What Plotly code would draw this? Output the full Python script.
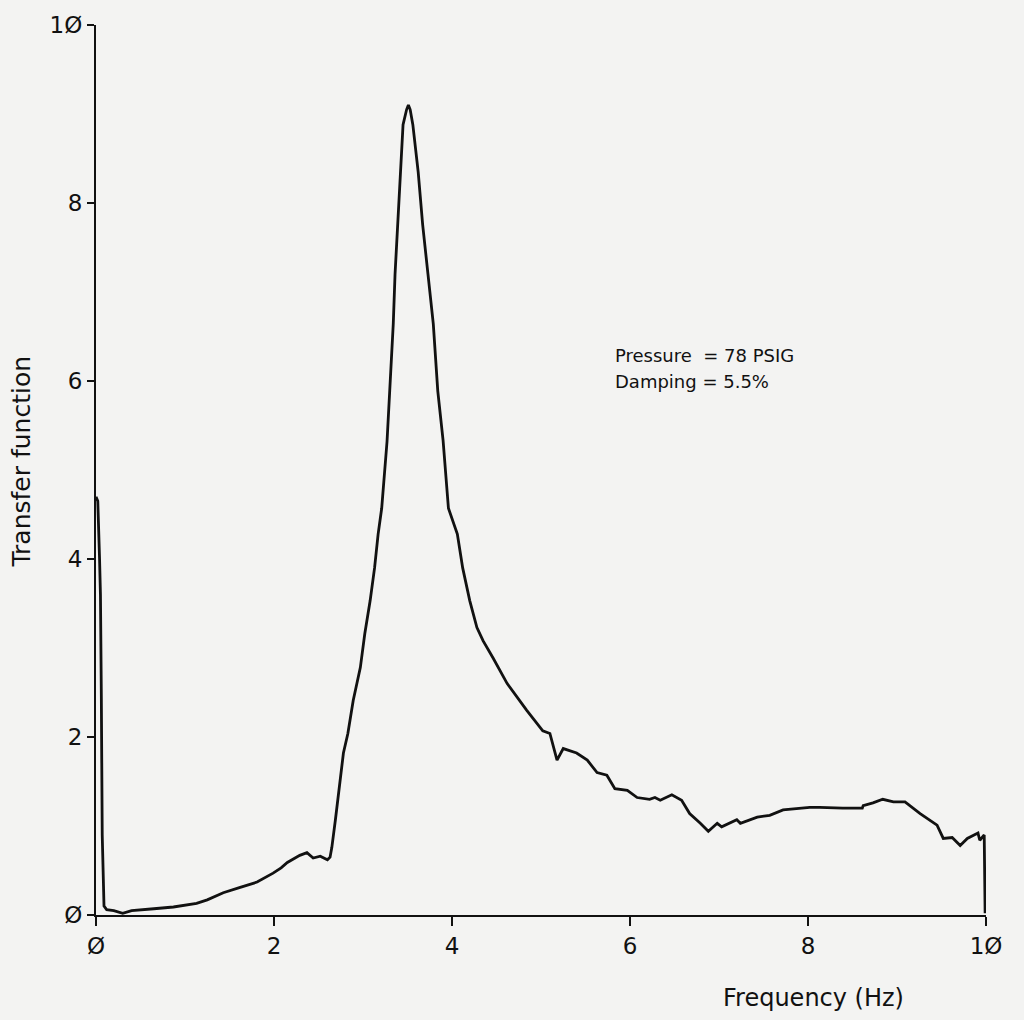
import plotly.graph_objects as go

# frequency (Hz) and transfer function
freq = [0.00, 0.02, 0.04, 0.05, 0.06, 0.07, 0.09, 0.12, 0.20, 0.30, 0.40, 0.49, 0.65,
        0.87, 1.00, 1.13, 1.25, 1.43, 1.62, 1.81, 1.99, 2.08, 2.15, 2.29, 2.37,
        2.44, 2.52, 2.60, 2.63, 2.65, 2.69, 2.74, 2.78, 2.83, 2.89, 2.97, 3.02,
        3.08, 3.13, 3.17, 3.21, 3.27, 3.30, 3.34, 3.36, 3.39, 3.43, 3.45, 3.49,
        3.51, 3.53, 3.56, 3.62, 3.67, 3.73, 3.79, 3.84, 3.90, 3.96, 4.06, 4.12,
        4.20, 4.28, 4.35, 4.46, 4.62, 4.84, 5.02, 5.10, 5.18, 5.25, 5.40, 5.52,
        5.63, 5.74, 5.83, 5.97, 6.08, 6.22, 6.28, 6.34, 6.47, 6.58, 6.67, 6.79,
        6.88, 6.98, 7.03, 7.20, 7.24, 7.43, 7.57, 7.72, 7.80, 8.02, 8.13, 8.39,
        8.61, 8.62, 8.73, 8.84, 8.96, 9.09, 9.26, 9.45, 9.52, 9.62, 9.71, 9.79,
        9.91, 9.93, 9.98, 9.99]
tf = [4.70, 4.65, 4.00, 3.60, 2.45, 0.90, 0.10, 0.06, 0.05, 0.02, 0.05, 0.06, 0.07,
      0.09, 0.11, 0.13, 0.17, 0.25, 0.31, 0.37, 0.47, 0.53, 0.59, 0.67, 0.70,
      0.64, 0.66, 0.62, 0.65, 0.76, 1.07, 1.48, 1.82, 2.04, 2.41, 2.78, 3.16,
      3.53, 3.90, 4.28, 4.57, 5.32, 5.89, 6.64, 7.20, 7.76, 8.35, 8.88, 9.05,
      9.10, 9.05, 8.88, 8.35, 7.76, 7.20, 6.64, 5.89, 5.33, 4.57, 4.28, 3.90,
      3.53, 3.23, 3.08, 2.89, 2.60, 2.30, 2.07, 2.04, 1.74, 1.87, 1.82, 1.74,
      1.60, 1.57, 1.42, 1.40, 1.32, 1.30, 1.32, 1.29, 1.35, 1.29, 1.14, 1.03,
      0.94, 1.03, 0.99, 1.07, 1.03, 1.10, 1.12, 1.18, 1.19, 1.21, 1.21, 1.20,
      1.20, 1.23, 1.26, 1.30, 1.27, 1.27, 1.14, 1.01, 0.86, 0.87, 0.78, 0.86,
      0.92, 0.84, 0.90, 0.02]

tick_vals = [0, 2, 4, 6, 8, 10]
tick_text = ['\u00d8', '2', '4', '6', '8', '1\u00d8']
notes = ['Pressure  = 78 PSIG', 'Damping = 5.5%']

bg = '#f3f3f2'
ink = '#111111'
font_ticks = dict(family='DejaVu Sans', size=23, color=ink)

fig = go.Figure()
fig.add_trace(go.Scatter(x=freq, y=tf, mode='lines',
                         line=dict(color=ink, width=2.8), showlegend=False))

fig.update_xaxes(range=[0, 10], tickvals=tick_vals, ticktext=tick_text,
                 showgrid=False, zeroline=False, showline=True, linecolor=ink,
                 linewidth=2.2, ticks='outside', ticklen=9, tickwidth=2.2,
                 tickcolor=ink, tickfont=font_ticks)
fig.update_yaxes(range=[0, 10], tickvals=tick_vals, ticktext=tick_text,
                 showgrid=False, zeroline=False, showline=True, linecolor=ink,
                 linewidth=2.2, ticks='outside', ticklen=7, tickwidth=2.2,
                 tickcolor=ink, tickfont=font_ticks)

# plot box in page pixels, used to place the axis titles
plot_l, plot_r, plot_t, plot_b = 96, 986, 22, 915
W, H = 1024, 1020
pw, ph = plot_r - plot_l, plot_b - plot_t

for note, ny in zip(notes, [6.29, 5.99]):
    fig.add_annotation(text=note, x=5.81, y=ny, xref='x', yref='y',
                       xanchor='left', yanchor='middle', showarrow=False,
                       font=dict(family='DejaVu Sans', size=18, color=ink))
fig.add_annotation(text='Frequency (Hz)', showarrow=False,
                   xref='paper', yref='paper', xanchor='center', yanchor='middle',
                   x=(813 - plot_l) / pw, y=(plot_b - 998) / ph,
                   font=dict(family='DejaVu Sans', size=24, color=ink))
fig.add_annotation(text='Transfer function', textangle=-90, showarrow=False,
                   xref='paper', yref='paper', xanchor='center', yanchor='middle',
                   x=(22 - plot_l) / pw, y=(plot_b - 460) / ph,
                   font=dict(family='DejaVu Sans', size=25, color=ink))

fig.update_layout(width=W, height=H, paper_bgcolor=bg, plot_bgcolor=bg,
                  margin=dict(l=plot_l, r=W - plot_r, t=plot_t, b=H - plot_b))

fig.write_html('out.html', config={'displayModeBar': False},
               post_script="document.body.style.margin='0px';")
